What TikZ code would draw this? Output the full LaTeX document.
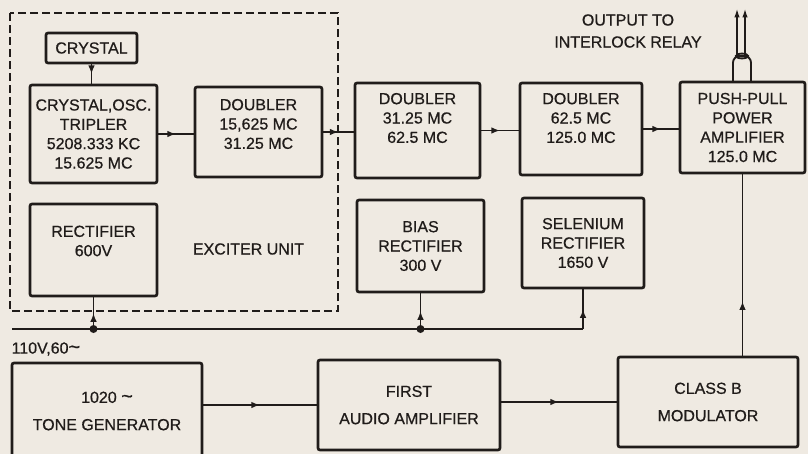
\documentclass[tikz,border=0pt]{standalone}
\usepackage{fontspec}
\setmainfont{Liberation Sans}[BoldFont=Liberation Sans,BoldFeatures={FakeBold=0.6}]
\usetikzlibrary{arrows.meta,calc,decorations.markings}
\definecolor{TxInk}{RGB}{32,28,26}
\definecolor{TxPaper}{RGB}{239,234,226}
\tikzset{
  tx/box/.style={
    draw=TxInk,
    line width=2pt,
    rounded corners=1.5pt,
    align=center,
    text=TxInk,
    inner sep=2pt,
    font=\fontsize{12}{14.5}\selectfont\bfseries
  },
  tx/bigbox/.style={tx/box, font=\fontsize{12}{20.5}\selectfont\bfseries},
  tx/text/.style={align=center, text=TxInk, inner sep=1pt, font=\fontsize{12}{14.5}\selectfont\bfseries},
  tx/frame/.style={draw=TxInk, line width=1.5pt, dash pattern=on 6pt off 3pt},
  tx/wire/.style={TxInk, line width=1.4pt},
  tx/midarrow/.style={postaction={decorate},
    decoration={markings, mark=at position #1 with {\arrow{Latex[length=6.5pt,width=5pt]}}}},
  tx/midarrow/.default=0.5,
  tx/outarrow/.style={-{Latex[length=7pt,width=4pt]}}
}
\newcommand{\acsign}{{\fontsize{15}{15}\selectfont\textasciitilde}}
\begin{document}
\begin{tikzpicture}[x=0.75pt,y=-0.75pt]
  \useasboundingbox (0,0) rectangle (808,454);
  \fill[TxPaper] (0,0) rectangle (808,454);

  \draw[tx/frame] (10,13) rectangle (338,311);
  \node[tx/box,minimum width=68.25pt,minimum height=22.5pt] (crystal) at (91.5,48) {CRYSTAL};
  \node[tx/box,minimum width=95.25pt,minimum height=73.5pt] (osc) at (93.5,134) {CRYSTAL,OSC.\\TRIPLER\\5208.333 KC\\15.625 MC};
  \node[tx/box,minimum width=95.25pt,minimum height=67.5pt] (dbl1) at (258.5,132) {};
  \node[tx/text] (dbl1txt) at (258.5,124) {DOUBLER\\15,625 MC\\31.25 MC};
  \node[tx/box,minimum width=95.25pt,minimum height=69pt] (rect) at (93.5,250) {};
  \node[tx/text] (recttxt) at (93.5,241) {RECTIFIER\\600V};
  \node[tx/text] (exciter) at (248.5,249) {EXCITER UNIT};

  \node[tx/box,minimum width=93.75pt,minimum height=71.25pt] (dbl2) at (417.5,130.5) {};
  \node[tx/text] (dbl2txt) at (417.5,118) {DOUBLER\\31.25 MC\\62.5 MC};
  \node[tx/box,minimum width=91.5pt,minimum height=69pt] (dbl3) at (581,129) {};
  \node[tx/text] (dbl3txt) at (581,118) {DOUBLER\\62.5 MC\\125.0 MC};
  \node[tx/box,minimum width=93.75pt,minimum height=68.25pt] (pp) at (742.5,127.5) {PUSH-PULL\\POWER\\AMPLIFIER\\125.0 MC};
  \node[tx/box,minimum width=95.25pt,minimum height=69pt] (bias) at (420.5,246) {BIAS\\RECTIFIER\\300 V};
  \node[tx/box,minimum width=91.5pt,minimum height=67.5pt] (selen) at (583,243) {SELENIUM\\RECTIFIER\\1650 V};

  \node[tx/bigbox,minimum width=142.5pt,minimum height=72pt] (tone) at (107,411) {1020 \acsign\\TONE GENERATOR};
  \node[tx/bigbox,minimum width=136.5pt,minimum height=67.5pt] (audio) at (409,405) {FIRST\\AUDIO AMPLIFIER};
  \node[tx/bigbox,minimum width=135pt,minimum height=67.5pt] (modB) at (708,402) {CLASS B\\MODULATOR};

  \node[tx/text,font=\fontsize{12}{16.5}\selectfont\bfseries] (relay) at (628,31) {OUTPUT TO\\INTERLOCK RELAY};
  \node[tx/text,anchor=west] (mains) at (10,349) {110V,60\acsign};

  \draw[tx/wire,tx/midarrow] (crystal.south) -- (crystal.south |- osc.north);
  \draw[tx/wire,tx/midarrow] (osc.east) -- (osc.east -| dbl1.west);
  \draw[tx/wire,tx/midarrow] (dbl1.east) -- (dbl1.east -| dbl2.west);
  \draw[tx/wire,tx/midarrow] (dbl2.east) -- (dbl2.east -| dbl3.west);
  \draw[tx/wire,tx/midarrow] (dbl3.east) -- (dbl3.east -| pp.west);
  \draw[tx/wire,tx/midarrow] (audio.west -| tone.east) -- (audio.west);
  \draw[tx/wire,tx/midarrow] (modB.west -| audio.east) -- (modB.west);
  \draw[tx/wire,tx/midarrow=0.3] (modB.north -| pp.south) -- (pp.south);

  \coordinate (mainsL) at (12,329);
  \coordinate (j1) at (rect.south |- mainsL);
  \coordinate (j2) at (bias.south |- mainsL);
  \coordinate (mainsR) at (selen.south |- mainsL);
  \draw[tx/wire] (mainsL) -- (mainsR);
  \draw[tx/wire,tx/midarrow] (j1) -- (rect.south);
  \draw[tx/wire,tx/midarrow] (j2) -- (bias.south);
  \draw[tx/wire,tx/midarrow] (mainsR) -- (selen.south);
  \fill[TxInk] (j1) circle (3pt) (j2) circle (3pt);

  \coordinate (cabtop) at (742,56);
  \coordinate (relayL) at (737,8);
  \coordinate (relayR) at (745,8);
  \draw[tx/wire,rounded corners=5pt] (733,82) |- (cabtop) -| (751,82);
  \draw[tx/wire] (cabtop) ellipse (4.5pt and 1.8pt);
  \draw[tx/wire,tx/outarrow] (relayL |- cabtop) -- (relayL);
  \draw[tx/wire,tx/outarrow] (relayR |- cabtop) -- (relayR);
\end{tikzpicture}
\end{document}
